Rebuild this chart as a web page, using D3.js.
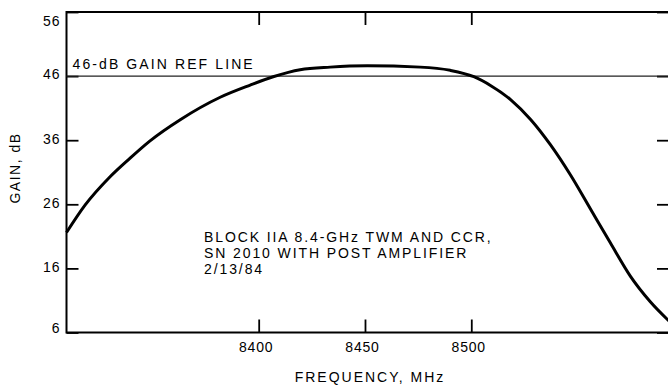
<!DOCTYPE html>
<html><head><meta charset="utf-8">
<script src="https://cdn.jsdelivr.net/npm/d3@7/dist/d3.min.js"></script>
<style>
html,body{margin:0;padding:0;background:#fff;}
svg{display:block;font-family:"Liberation Sans",Arial,sans-serif;}
</style></head>
<body><svg id="c" width="668" height="388"></svg>
<script>
const freq = [8309.6, 8318.4, 8330.1, 8339.5, 8348.9, 8363.1, 8381.9, 8396.0, 8406.8, 8419.5, 8433.6, 8451.1, 8476.0, 8490.1, 8501.2, 8509.2, 8518.6, 8528.0, 8537.2, 8546.6, 8556.0, 8565.4, 8574.8, 8584.2, 8593.0];
const gain = [21.6, 25.9, 30.3, 33.2, 35.9, 39.2, 42.7, 44.6, 45.9, 47.0, 47.4, 47.6, 47.4, 46.9, 45.9, 44.5, 42.3, 39.2, 35.3, 30.6, 25.3, 20.0, 14.8, 10.8, 7.8];
const yTicks = [6, 16, 26, 36, 46, 56];
const xTicks = [8400, 8450, 8500];
const refGain = 46;
const refLabel = "46-dB GAIN REF LINE";
const noteLines = ["BLOCK IIA 8.4-GHz TWM AND CCR,", "SN 2010 WITH POST AMPLIFIER", "2/13/84"];
const xTitle = "FREQUENCY, MHz";
const yTitle = "GAIN, dB";

const svg = d3.select("#c");
const L = 66.5, R = 669, T = 12, B = 332.5;
const x = d3.scaleLinear().domain([8309.6, 8593]).range([L, R]);
const y = d3.scaleLinear().domain([6, 56]).range([B, T]);

// frame
svg.append("rect").attr("x", L).attr("y", T).attr("width", R - L).attr("height", B - T)
  .attr("fill", "none").attr("stroke", "#000").attr("stroke-width", 2);

// axes
const gl = svg.append("g").attr("transform", `translate(${L},0)`)
  .call(d3.axisLeft(y).tickValues(yTicks).tickSizeInner(-12).tickSizeOuter(0).tickPadding(6).tickFormat(d3.format("d")));
const gr = svg.append("g").attr("transform", `translate(${R},0)`)
  .call(d3.axisRight(y).tickValues(yTicks).tickSizeInner(-12).tickSizeOuter(0).tickFormat(""));
const gb = svg.append("g").attr("transform", `translate(0,${B})`)
  .call(d3.axisBottom(x).tickValues(xTicks).tickSizeInner(-13).tickSizeOuter(0).tickPadding(10).tickFormat(d3.format("d")));
const gt = svg.append("g").attr("transform", `translate(0,${T})`)
  .call(d3.axisTop(x).tickValues(xTicks).tickSizeInner(-13).tickSizeOuter(0).tickFormat(""));
[gl, gr, gb, gt].forEach(g => {
  g.select(".domain").remove();
  g.selectAll(".tick line").attr("stroke", "#000").attr("stroke-width", 1.8);
  g.selectAll("text").attr("fill", "#000").attr("font-size", 14).attr("font-family", "Liberation Sans, Arial, sans-serif")
   .attr("letter-spacing", 1);
});
gl.selectAll(".tick text").attr("dy", d => d === 56 ? "0.95em" : d === 6 ? "0" : "0.2em");
gb.selectAll(".tick text").attr("dy", "0.71em").attr("letter-spacing", 0.8).attr("dx", -3);

// reference line
svg.append("line").attr("x1", L).attr("x2", R).attr("y1", y(refGain)).attr("y2", y(refGain))
  .attr("stroke", "#222").attr("stroke-width", 1.3);
svg.append("text").attr("x", L + 6).attr("y", y(refGain) - 7).attr("font-size", 14)
  .attr("letter-spacing", 2.1).text(refLabel);

// curve
const line = d3.line().x((d, i) => x(freq[i])).y(d => y(d)).curve(d3.curveMonotoneX);
svg.append("path").datum(gain).attr("d", line).attr("fill", "none")
  .attr("stroke", "#000").attr("stroke-width", 3);

// note
const note = svg.append("text").attr("font-size", 14).attr("letter-spacing", 1.9);
noteLines.forEach((t, i) => note.append("tspan").attr("x", 204).attr("y", 242 + i * 16).text(t));

// titles
svg.append("text").attr("x", x(8450) + 5).attr("y", 382).attr("text-anchor", "middle")
  .attr("font-size", 14).attr("letter-spacing", 2).text(xTitle);
svg.append("text").attr("transform", "translate(20,168) rotate(-90)").attr("text-anchor", "middle")
  .attr("font-size", 14).attr("letter-spacing", 1.5).text(yTitle);
</script></body></html>
